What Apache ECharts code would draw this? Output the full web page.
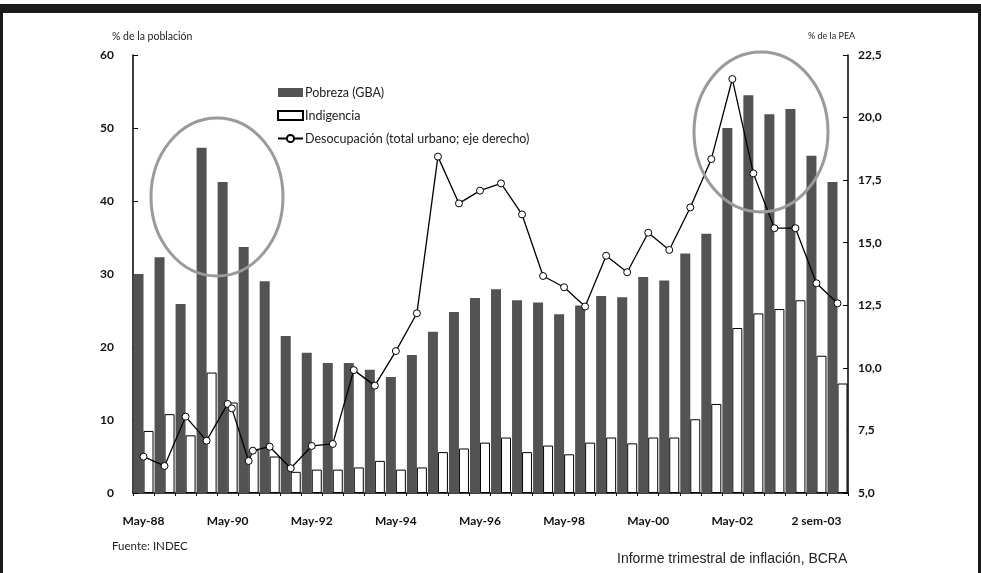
<!DOCTYPE html>
<html>
<head>
<meta charset="utf-8">
<script src="https://cdn.jsdelivr.net/npm/echarts@6/dist/echarts.min.js"></script>
<style>
html,body{margin:0;padding:0;background:#fff;}
#c{width:981px;height:573px;}
</style>
</head>
<body>
<div id="c"></div>
<script>
// Categories (semiannual surveys)
var categories = [
  'May-88','Oct-88','May-89','Oct-89','May-90','Oct-90','May-91','Oct-91',
  'May-92','Oct-92','May-93','Oct-93','May-94','Oct-94','May-95','Oct-95',
  'May-96','Oct-96','May-97','Oct-97','May-98','Oct-98','May-99','Oct-99',
  'May-00','Oct-00','May-01','Oct-01','May-02','Oct-02','May-03','1 sem-03',
  '2 sem-03','1 sem-04'
];
// Pobreza (GBA), % de la población
var pobreza = [
  30.0, 32.3, 25.9, 47.3, 42.6, 33.7, 29.0, 21.5,
  19.2, 17.8, 17.8, 16.9, 15.9, 18.9, 22.1, 24.8,
  26.7, 27.9, 26.4, 26.1, 24.5, 25.7, 27.0, 26.8,
  29.6, 29.1, 32.8, 35.5, 50.0, 54.5, 51.9, 52.6,
  46.2, 42.6
];
// Indigencia, % de la población
var indigencia = [
  8.5, 10.8, 7.9, 16.5, 12.4, 5.9, 5.0, 2.9,
  3.2, 3.2, 3.5, 4.4, 3.2, 3.5, 5.6, 6.1,
  6.9, 7.6, 5.6, 6.5, 5.3, 6.9, 7.6, 6.8,
  7.6, 7.6, 10.1, 12.2, 22.6, 24.6, 25.2, 26.4,
  18.8, 15.0
];
// Desocupación (total urbano), % de la PEA — position on the category scale and value
var desocPos = [
  0, 1, 2, 3, 4, 4.2, 5, 5.2, 6, 7, 8, 9, 10, 11, 12, 13, 14, 15, 16, 17,
  18, 19, 20, 21, 22, 23, 24, 25, 26, 27, 28, 29, 30, 31, 32, 33
];
var desocVal = [
  6.45, 6.08, 8.05, 7.09, 8.56, 8.38, 6.28, 6.69, 6.85, 5.99, 6.88, 6.96,
  9.91, 9.29, 10.67, 12.18, 18.44, 16.57, 17.08, 17.37, 16.13, 13.67, 13.22, 12.45,
  14.48, 13.82, 15.40, 14.71, 16.41, 18.34, 21.54, 17.77, 15.58, 15.58, 13.38, 12.58
];
var leftTicks = {min: 0, max: 60, interval: 10};
var rightTicks = {min: 5, max: 22.5, interval: 2.5};

var desocData = desocPos.map(function (p, i) { return [p, desocVal[i]]; });

var chart = echarts.init(document.getElementById('c'), null, {renderer: 'canvas'});
var tickFont = {fontFamily: 'Lato', fontWeight: 'bold', fontSize: 12, color: '#111'};

chart.setOption({
  backgroundColor: '#ffffff',
  animation: false,
  grid: {left: 133, right: 133, top: 55, bottom: 80},
  legend: {
    orient: 'vertical',
    left: 272,
    top: 81,
    itemWidth: 25,
    itemHeight: 9,
    itemGap: 10,
    textStyle: {fontFamily: 'Lato', fontSize: 12.5, color: '#222', padding: [0, 0, 0, -3]},
    data: [
      {name: 'Pobreza (GBA)', icon: 'rect'},
      {name: 'Indigencia', icon: 'rect'},
      {name: 'Desocupación (total urbano; eje derecho)'}
    ]
  },
  xAxis: [
    {
      type: 'category',
      data: categories,
      boundaryGap: true,
      axisLine: {onZero: false, lineStyle: {color: '#000', width: 1.5}},
      axisTick: {show: true, interval: 0, length: 3, lineStyle: {color: '#000'}},
      axisLabel: Object.assign({interval: 3, margin: 22}, tickFont),
      splitLine: {show: false}
    },
    {
      type: 'value',
      min: -0.5,
      max: 33.5,
      show: false
    }
  ],
  yAxis: [
    {
      type: 'value',
      min: leftTicks.min, max: leftTicks.max, interval: leftTicks.interval,
      axisLine: {show: true, onZero: false, lineStyle: {color: '#000', width: 1.5}},
      axisTick: {show: true, inside: true, length: 5, lineStyle: {color: '#000'}},
      axisLabel: Object.assign({margin: 19}, tickFont),
      splitLine: {show: false}
    },
    {
      type: 'value',
      min: rightTicks.min, max: rightTicks.max, interval: rightTicks.interval,
      position: 'right',
      axisLine: {show: true, onZero: false, lineStyle: {color: '#000', width: 1.5}},
      axisTick: {show: true, inside: true, length: 5, lineStyle: {color: '#000'}},
      axisLabel: Object.assign({
        margin: 10,
        formatter: function (v) { return v.toFixed(1).replace('.', ','); }
      }, tickFont),
      splitLine: {show: false}
    }
  ],
  series: [
    {
      name: 'Pobreza (GBA)',
      type: 'bar',
      data: pobreza,
      barWidth: 10,
      barGap: '0%',
      itemStyle: {color: '#535353'}
    },
    {
      name: 'Indigencia',
      type: 'bar',
      data: indigencia,
      barWidth: 10,
      barGap: '0%',
      itemStyle: {color: '#ffffff', borderColor: '#000', borderWidth: 1}
    },
    {
      name: 'Desocupación (total urbano; eje derecho)',
      type: 'line',
      xAxisIndex: 1,
      yAxisIndex: 1,
      data: desocData,
      symbol: 'circle',
      symbolSize: 7,
      z: 5,
      lineStyle: {color: '#000', width: 1.3},
      itemStyle: {color: '#fff', borderColor: '#000', borderWidth: 1}
    }
  ],
  graphic: [
    // frame
    {type: 'rect', shape: {x: 0, y: 4, width: 981, height: 9}, style: {fill: '#1a1a1a'}},
    {type: 'rect', shape: {x: 0, y: 4, width: 3, height: 569}, style: {fill: '#1a1a1a'}},
    {type: 'rect', shape: {x: 978, y: 4, width: 3, height: 569}, style: {fill: '#1a1a1a'}},
    // annotation ellipses
    {type: 'ellipse', z: 10, shape: {cx: 217, cy: 197, rx: 66, ry: 79},
      style: {fill: 'none', stroke: '#9a9a9a', lineWidth: 3}},
    {type: 'ellipse', z: 10, shape: {cx: 761, cy: 132, rx: 67, ry: 80},
      style: {fill: 'none', stroke: '#9a9a9a', lineWidth: 3}},
    // axis titles
    {type: 'text', left: 112, top: 31, style: {text: '% de la población', fontFamily: 'Lato', fontSize: 10.5, fill: '#222'}},
    {type: 'text', left: 808, top: 32, style: {text: '% de la PEA', fontFamily: 'Lato', fontSize: 9, fill: '#222'}},
    // source notes
    {type: 'text', left: 112, top: 540, style: {text: 'Fuente: INDEC', fontFamily: 'Lato', fontSize: 11.5, fill: '#222'}},
    {type: 'text', left: 617, top: 552, style: {text: 'Informe trimestral de inflación, BCRA', fontFamily: 'Liberation Sans', fontSize: 14, fill: '#222'}}
  ]
});
</script>
</body>
</html>
